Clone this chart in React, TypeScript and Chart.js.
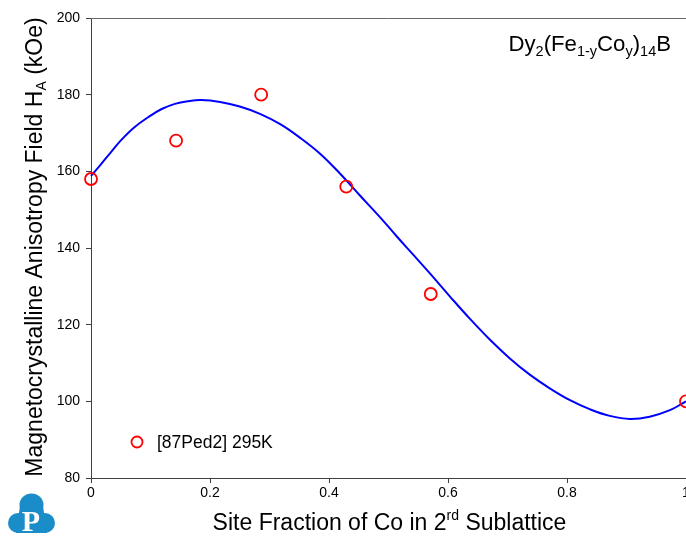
import React, { useEffect, useRef } from 'react';
import { Chart, registerables } from 'chart.js';

Chart.register(...registerables);

// Fitted curve
const curveX = [0, 0.017, 0.034, 0.051, 0.073, 0.096, 0.118, 0.141, 0.163, 0.185, 0.217, 0.25, 0.284, 0.318, 0.351, 0.385, 0.418, 0.452, 0.486, 0.514, 0.543, 0.57, 0.603, 0.637, 0.671, 0.704, 0.738, 0.771, 0.805, 0.839, 0.872, 0.906, 0.939, 0.973, 1.0];
const curveY = [158.8, 161.9, 165.1, 168.2, 171.5, 174.1, 176.2, 177.6, 178.3, 178.6, 178.1, 176.9, 175.0, 172.3, 168.8, 164.6, 159.5, 153.7, 148.0, 143.0, 138.0, 133.3, 127.4, 121.5, 116.0, 111.2, 106.9, 103.4, 100.3, 97.9, 96.2, 95.4, 96.0, 97.7, 100.0];

// Experimental points [87Ped2] 295K
const dataX = [0, 0.143, 0.286, 0.429, 0.571, 1.0];
const dataY = [158, 168, 180, 156, 128, 100];

const xTicks = [0, 0.2, 0.4, 0.6, 0.8, 1];
const yTicks = [80, 100, 120, 140, 160, 180, 200];
const legendLabel = '[87Ped2] 295K';

const FONT = "'Liberation Sans', Arial, Helvetica, sans-serif";

type Part = { t: string; size: number; dy: number };

function richWidth(ctx: CanvasRenderingContext2D, parts: Part[]) {
  let w = 0;
  for (const p of parts) {
    ctx.font = `${p.size}px ${FONT}`;
    w += ctx.measureText(p.t).width;
  }
  return w;
}

function drawRich(ctx: CanvasRenderingContext2D, parts: Part[], x: number, y: number, align: 'left' | 'center' | 'right') {
  const w = richWidth(ctx, parts);
  let cx = align === 'left' ? x : align === 'center' ? x - w / 2 : x - w;
  ctx.textAlign = 'left';
  ctx.textBaseline = 'alphabetic';
  for (const p of parts) {
    ctx.font = `${p.size}px ${FONT}`;
    ctx.fillText(p.t, cx, y + p.dy);
    cx += ctx.measureText(p.t).width;
  }
}

const overlayPlugin = {
  id: 'overlay',
  afterDraw(chart: any) {
    const { ctx, chartArea } = chart;
    ctx.save();
    // top frame line
    ctx.strokeStyle = '#6a6a6a';
    ctx.lineWidth = 1;
    ctx.beginPath();
    ctx.moveTo(chartArea.left, Math.round(chartArea.top) + 0.5);
    ctx.lineTo(chartArea.right, Math.round(chartArea.top) + 0.5);
    ctx.stroke();

    ctx.fillStyle = '#000';
    // title
    drawRich(ctx, [
      { t: 'Dy', size: 22.2, dy: 0 },
      { t: '2', size: 14.5, dy: 5 },
      { t: '(Fe', size: 22.2, dy: 0 },
      { t: '1-y', size: 14.5, dy: 5 },
      { t: 'Co', size: 22.2, dy: 0 },
      { t: 'y', size: 14.5, dy: 5 },
      { t: ')', size: 22.2, dy: 0 },
      { t: '14', size: 14.5, dy: 5 },
      { t: 'B', size: 22.2, dy: 0 },
    ], 671, 51, 'right');

    // x title
    drawRich(ctx, [
      { t: 'Site Fraction of Co in 2', size: 23, dy: 0 },
      { t: 'rd', size: 14, dy: -10 },
      { t: ' Sublattice', size: 23, dy: 0 },
    ], (chartArea.left + chartArea.right) / 2 + 1, 530, 'center');

    // y title
    ctx.save();
    ctx.translate(41.5, (chartArea.top + chartArea.bottom) / 2 - 1);
    ctx.rotate(-Math.PI / 2);
    drawRich(ctx, [
      { t: 'Magnetocrystalline Anisotropy Field H', size: 23, dy: 0 },
      { t: 'A', size: 14, dy: 4 },
      { t: ' (kOe)', size: 23, dy: 0 },
    ], 0, 0, 'center');
    ctx.restore();

    // legend
    ctx.strokeStyle = '#ff0000';
    ctx.lineWidth = 1.8;
    ctx.beginPath();
    ctx.arc(137, 442, 5.5, 0, Math.PI * 2);
    ctx.stroke();
    ctx.fillStyle = '#000';
    ctx.font = `17.5px ${FONT}`;
    ctx.textAlign = 'left';
    ctx.textBaseline = 'alphabetic';
    ctx.fillText(legendLabel, 157, 448);

    // logo
    ctx.fillStyle = '#1a8dc8';
    ctx.beginPath();
    ctx.ellipse(31.5, 505, 12, 11.5, 0, 0, Math.PI * 2);
    ctx.fill();
    ctx.beginPath();
    ctx.arc(18, 523, 10, 0, Math.PI * 2);
    ctx.fill();
    ctx.beginPath();
    ctx.arc(45, 523, 10, 0, Math.PI * 2);
    ctx.fill();
    ctx.beginPath();
    ctx.moveTo(20, 506);
    ctx.lineTo(43, 506);
    ctx.lineTo(47, 533);
    ctx.lineTo(16, 533);
    ctx.closePath();
    ctx.fill();
    ctx.fillStyle = '#ffffff';
    ctx.font = "bold 30px 'Liberation Serif', 'DejaVu Serif', serif";
    ctx.textAlign = 'center';
    ctx.fillText('P', 31, 531);
    ctx.restore();
  },
};

export default function App() {
  const canvasRef = useRef<HTMLCanvasElement | null>(null);

  useEffect(() => {
    document.body.style.margin = '0';
    const canvas = canvasRef.current;
    if (!canvas) return;
    const chart = new Chart(canvas, {
      type: 'scatter',
      data: {
        datasets: [
          {
            type: 'scatter',
            label: legendLabel,
            data: dataX.map((x, i) => ({ x, y: dataY[i] })),
            showLine: false,
            pointRadius: 6,
            pointHoverRadius: 6,
            pointBorderWidth: 1.8,
            borderColor: '#ff0000',
            backgroundColor: 'rgba(0,0,0,0)',
            pointBackgroundColor: 'rgba(0,0,0,0)',
            pointBorderColor: '#ff0000',
            clip: false,
          } as any,
          {
            type: 'line',
            label: 'Calculated',
            data: curveX.map((x, i) => ({ x, y: curveY[i] })),
            borderColor: '#0000ff',
            borderWidth: 2,
            pointRadius: 0,
            fill: false,
            tension: 0.4,
            clip: false,
          } as any,
        ],
      },
      options: {
        animation: false,
        responsive: false,
        devicePixelRatio: 1,
        layout: { autoPadding: false, padding: { top: 18, right: 0, bottom: 0, left: 0 } },
        plugins: {
          legend: { display: false },
          tooltip: { enabled: false },
          title: { display: false },
        },
        scales: {
          x: {
            type: 'linear',
            min: 0,
            max: 1,
            afterBuildTicks: (s: any) => {
              s.ticks = xTicks.map((v) => ({ value: v }));
            },
            ticks: {
              font: { family: FONT, size: 14 },
              color: '#000',
              padding: 2,
              maxRotation: 0,
              autoSkip: false,
              callback: (v: any) => String(v),
            },
            grid: { drawOnChartArea: false, drawTicks: true, tickLength: 5, tickColor: '#404040', tickWidth: 1 },
            border: { display: true, color: '#404040', width: 1 },
            afterFit: (s: any) => {
              s.height = 58;
              s.paddingLeft = 0;
              s.paddingRight = 0;
            },
          },
          y: {
            type: 'linear',
            min: 80,
            max: 200,
            afterBuildTicks: (s: any) => {
              s.ticks = yTicks.map((v) => ({ value: v }));
            },
            ticks: {
              font: { family: FONT, size: 14 },
              color: '#000',
              padding: 6,
              autoSkip: false,
              callback: (v: any) => String(v),
            },
            grid: { drawOnChartArea: false, drawTicks: true, tickLength: 5, tickColor: '#404040', tickWidth: 1 },
            border: { display: true, color: '#404040', width: 1 },
            afterFit: (s: any) => {
              s.width = 91;
              s.paddingTop = 0;
              s.paddingBottom = 0;
            },
          },
        },
      },
      plugins: [overlayPlugin],
    });
    return () => chart.destroy();
  }, []);

  return (
    <div style={{ position: 'absolute', left: 0, top: 0, width: 686, height: 536, background: '#fff' }}>
      <canvas ref={canvasRef} width={686} height={536} style={{ display: 'block' }} />
    </div>
  );
}
